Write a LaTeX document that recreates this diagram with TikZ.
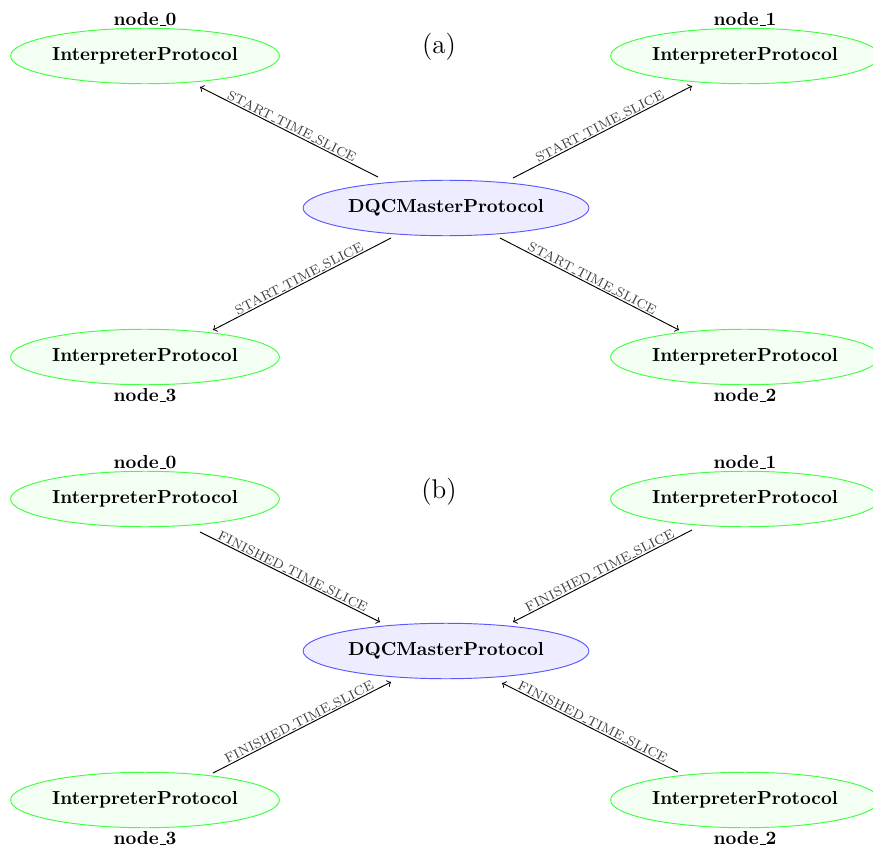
\documentclass[tikz,border=0pt]{standalone}
\usetikzlibrary{shapes.geometric}
\newcommand\usc{\leavevmode\kern.06em\vbox{\hrule width.3em}}
\tikzset{
  interp/.style={ellipse, draw=green!75, fill=green!5, line width=0.5pt, inner sep=0pt, minimum width=143pt, minimum height=29.5pt, font=\bfseries},
  master/.style={ellipse, draw=blue!65, fill=blue!7, line width=0.5pt, inner sep=0pt, minimum width=152pt, minimum height=29.5pt, font=\bfseries},
  nlabel/.style={font=\bfseries, inner sep=0pt},
  panel/.style={font=\Large, inner sep=0pt},
  msg/.style={->, black, line width=0.5pt},
  msglabel/.style={sloped, above, midway, font=\scriptsize, text=black!75, inner sep=0.6pt}
}
\begin{document}
\begin{tikzpicture}[x=0.5319pt, y=-0.5319pt]
\useasboundingbox (0,0) rectangle (873,855);

% ---------- panel (a) ----------
\node[panel] (pa) at (439,47) {(a)};
\node[master] (ma) at (446,208) {DQCMasterProtocol};
\node[interp] (a0) at (145,56) {InterpreterProtocol};
\node[interp] (a1) at (745,56) {InterpreterProtocol};
\node[interp] (a2) at (745,357) {InterpreterProtocol};
\node[interp] (a3) at (145,357) {InterpreterProtocol};
\node[nlabel] (la0) at (145,19) {node\usc 0};
\node[nlabel] (la1) at (745,19) {node\usc 1};
\node[nlabel] (la2) at (745,395) {node\usc 2};
\node[nlabel] (la3) at (145,395) {node\usc 3};

\draw[msg] ([shift={(-68,-31)}]ma.center) -- node[msglabel] {START\usc TIME\usc SLICE} ([shift={(55,31)}]a0.center);
\draw[msg] ([shift={(67,-30)}]ma.center) -- node[msglabel] {START\usc TIME\usc SLICE} ([shift={(-53,30)}]a1.center);
\draw[msg] ([shift={(-55,30)}]ma.center) -- node[msglabel] {START\usc TIME\usc SLICE} ([shift={(68,-27)}]a3.center);
\draw[msg] ([shift={(54,30)}]ma.center) -- node[msglabel] {START\usc TIME\usc SLICE} ([shift={(-66,-27)}]a2.center);

% ---------- panel (b) ----------
\node[panel] (pb) at (439,492) {(b)};
\node[master] (mb) at (446,651) {DQCMasterProtocol};
\node[interp] (b0) at (145,499) {InterpreterProtocol};
\node[interp] (b1) at (745,499) {InterpreterProtocol};
\node[interp] (b2) at (745,800) {InterpreterProtocol};
\node[interp] (b3) at (145,800) {InterpreterProtocol};
\node[nlabel] (lb0) at (145,462) {node\usc 0};
\node[nlabel] (lb1) at (745,462) {node\usc 1};
\node[nlabel] (lb2) at (745,838) {node\usc 2};
\node[nlabel] (lb3) at (145,838) {node\usc 3};

\draw[msg] ([shift={(55,33)}]b0.center) -- node[msglabel] {FINISHED\usc TIME\usc SLICE} ([shift={(-66,-29)}]mb.center);
\draw[msg] ([shift={(-53,31)}]b1.center) -- node[msglabel] {FINISHED\usc TIME\usc SLICE} ([shift={(67,-29)}]mb.center);
\draw[msg] ([shift={(68,-27)}]b3.center) -- node[msglabel] {FINISHED\usc TIME\usc SLICE} ([shift={(-55,31)}]mb.center);
\draw[msg] ([shift={(-67,-28)}]b2.center) -- node[msglabel] {FINISHED\usc TIME\usc SLICE} ([shift={(56,32)}]mb.center);
\end{tikzpicture}
\end{document}
